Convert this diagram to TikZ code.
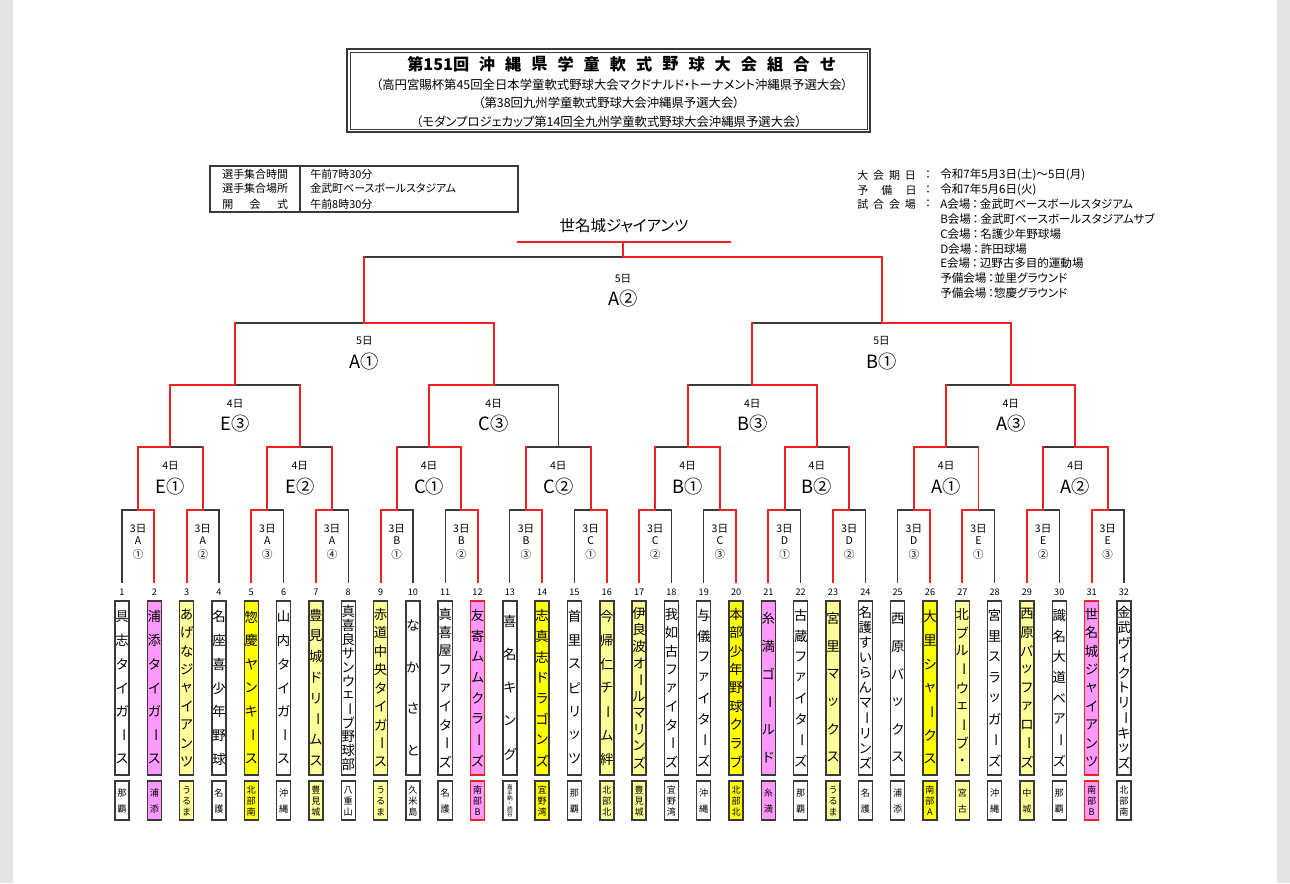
\documentclass[tikz,border=0pt]{standalone}
\usepackage{fontspec}
\setmainfont{Noto Sans CJK JP}[RawFeature=+palt]
\usepackage{tikz}

\definecolor{pinkbox}{HTML}{FF99FF}
\definecolor{paleyel}{HTML}{FFFF99}
\definecolor{yelbox}{HTML}{FFFF00}
\definecolor{winred}{HTML}{EE2222}
\definecolor{linegray}{HTML}{3A3A3A}
\definecolor{pagegray}{HTML}{E4E4E4}

\newcommand\cho{\rotatebox[origin=c]{-90}{ー}}
\newcommand\vtext[5]{%
  \foreach \c [count=\cnt] in #5 {\xdef\nchars{\cnt}}
  \foreach \c [count=\cnt] in #5 {
    \node[#4] at (#1, {#2+(\cnt-0.5)*(#3-#2)/\nchars}) {\c};
  }
}

\begin{document}
\begin{tikzpicture}[x=0.025cm, y=-0.025cm, line cap=rect,
    redline/.style={draw=winred, line width=1.4pt},
    blkline/.style={draw=linegray, line width=0.9pt},
    tchar/.style={inner sep=0pt, font=\fontsize{9.5}{10}\selectfont},
    hchar/.style={inner sep=0pt, font=\fontsize{6.5}{7}\selectfont},
    hcharsm/.style={inner sep=0pt, font=\fontsize{4}{4}\selectfont},
    numf/.style={inner sep=0pt, font=\fontsize{6.5}{7}\selectfont},
    dayf/.style={inner sep=0pt, font=\fontsize{7.5}{8}\selectfont},
    bigf/.style={inner sep=0pt, font=\fontsize{13}{14}\selectfont},
    infof/.style={inner sep=0pt, font=\fontsize{7.8}{8}\selectfont},
    schf/.style={inner sep=0pt, font=\fontsize{8.2}{9}\selectfont},
    subf/.style={inner sep=0pt, font=\fontsize{8.8}{9}\selectfont},
    namebox/.style={minimum width=0.35cm, minimum height=4.35cm, line width=1pt, inner sep=0pt},
    homebox/.style={minimum width=0.35cm, minimum height=0.975cm, line width=1pt, inner sep=0pt}]

    \useasboundingbox (0,0) rectangle (1290,883);
    \fill[pagegray] (0,0) rectangle (1290,883);
    \fill[white] (13,0) rectangle (1277,883);

    % title
    \draw[line width=1.1pt, linegray] (347,49) rectangle (870,132);
    \draw[line width=0.5pt, linegray] (350,52) rectangle (867,129);
    \node[anchor=west, inner sep=0pt, font=\fontsize{11.5}{12}\bfseries] (ttl) at (407,64) {第151回};
    \foreach \c [count=\i] in {沖,縄,県,学,童,軟,式,野,球,大,会,組,合,せ} {
        \node[inner sep=0pt, font=\fontsize{11.5}{12}\bfseries] (ttl\i) at ({487+(\i-1)*26.2},64) {\c};
    }
    \node[subf] (sub1) at (612,85) {（高円宮賜杯第45回全日本学童軟式野球大会マクドナルド・トーナメント沖縄県予選大会）};
    \node[subf] (sub2) at (609,103) {（第38回九州学童軟式野球大会沖縄県予選大会）};
    \node[subf] (sub3) at (609,122) {（モダンプロジェカップ第14回全九州学童軟式野球大会沖縄県予選大会）};

    % meeting box
    \draw[line width=0.9pt, linegray] (210,166) rectangle (518,212);
    \draw[line width=0.9pt, linegray] (300,166) -- (300,212);
    \node[infof, anchor=west] (lab1) at (222,174) {選手集合時間};
    \node[infof, anchor=west] (lab2) at (222,188) {選手集合場所};
    \node[infof, anchor=west] (lab3) at (222,204) {開\hspace{1.5em}会\hspace{1.5em}式};
    \node[infof, anchor=west] (val1) at (310,174) {午前7時30分};
    \node[infof, anchor=west] (val2) at (310,188) {金武町ベースボールスタジアム};
    \node[infof, anchor=west] (val3) at (310,204) {午前8時30分};

    % schedule
    \node[infof, anchor=west] (sch1) at (857,175) {大\hspace{0.45em}会\hspace{0.45em}期\hspace{0.45em}日};
    \node[infof, anchor=west] (sch2) at (857,190) {予\hspace{1.2em}備\hspace{1.2em}日};
    \node[infof, anchor=west] (sch3) at (857,204) {試\hspace{0.45em}合\hspace{0.45em}会\hspace{0.45em}場};
    \foreach \y in {175,190,204} {
        \node[infof] at (928,\y) {：};
    }
    \node[schf, anchor=west] (per1) at (940,175) {令和7年5月3日(土)～5日(月)};
    \node[schf, anchor=west] (per2) at (940,190) {令和7年5月6日(火)};
    \foreach \t [count=\i] in {A会場\,：\,金武町ベースボールスタジアム,
                               B会場\,：\,金武町ベースボールスタジアムサブ,
                               C会場\,：\,名護少年野球場,
                               D会場\,：\,許田球場,
                               E会場\,：\,辺野古多目的運動場,
                               予備会場\,：並里グラウンド,
                               予備会場\,：惣慶グラウンド} {
        \node[schf, anchor=west] (fld\i) at (940,{204+(\i-1)*14.9}) {\t};
    }

    % bracket
    \foreach \r in {1,...,5} {
        \pgfmathtruncatemacro\m{32/2^\r}
        \pgfmathsetmacro\ylo{{582,510,447,385,323,257}[\r-1]}
        \pgfmathsetmacro\yhi{{582,510,447,385,323,257}[\r]}
        \foreach \j in {1,...,\m} {
            \pgfmathsetmacro\xl{122+32.32*((2*\j-2)*2^(\r-1)+(2^(\r-1)-1)/2)}
            \pgfmathsetmacro\xr{122+32.32*((2*\j-1)*2^(\r-1)+(2^(\r-1)-1)/2)}
            \draw[blkline] (\xl,\ylo) -- (\xl,\yhi) -- (\xr,\yhi) -- (\xr,\ylo);
        }
    }
    \foreach \t/\w in {2/3,3/1,5/2,7/1,9/1,12/4,14/1,16/1,17/1,20/2,21/3,23/1,26/2,27/1,29/1,31/5} {
        \foreach \r in {1,...,\w} {
            \pgfmathsetmacro\xa{122+32.32*(floor((\t-1)/2^(\r-1))*2^(\r-1)+(2^(\r-1)-1)/2)}
            \pgfmathsetmacro\xb{122+32.32*(floor((\t-1)/2^\r)*2^\r+(2^\r-1)/2)}
            \pgfmathsetmacro\ya{{582,510,447,385,323,257,242}[\r-1]}
            \pgfmathsetmacro\yb{{582,510,447,385,323,257,242}[\r]}
            \pgfmathsetmacro\yc{{582,510,447,385,323,257,242}[\r+1]}
            \draw[redline] (\xa,\ya) |- (\xb,\yb) -- (\xb,\yc);
        }
    }
    \coordinate (champL) at (518,242);
    \coordinate (champR) at (730,242);
    \draw[redline] (champL) -- (champR);
    \node[inner sep=0pt, font=\fontsize{11}{12}\selectfont] (champ) at (624,226) {世名城ジャイアンツ};

    % match labels
    \foreach \lt/\nm [count=\j] in {A/①,A/②,A/③,A/④,B/①,B/②,B/③,C/①,C/②,C/③,D/①,D/②,D/③,E/①,E/②,E/③} {
        \pgfmathsetmacro\xc{122+32.32*(2*\j-1.5)}
        \node[dayf] (d1-\j) at (\xc,529) {3日};
        \node[dayf] (v1-\j) at (\xc,541) {\lt};
        \node[dayf] (c1-\j) at (\xc,554) {\nm};
    }
    \foreach \lab [count=\j] in {E①,E②,C①,C②,B①,B②,A①,A②} {
        \pgfmathsetmacro\xc{122+32.32*((\j-1)*4+1.5)}
        \node[dayf] (d2-\j) at (\xc,466) {4日};
        \node[bigf] (m2-\j) at (\xc,487) {\lab};
    }
    \foreach \lab [count=\j] in {E③,C③,B③,A③} {
        \pgfmathsetmacro\xc{122+32.32*((\j-1)*8+3.5)}
        \node[dayf] (d3-\j) at (\xc,404) {4日};
        \node[bigf] (m3-\j) at (\xc,424) {\lab};
    }
    \foreach \lab [count=\j] in {A①,B①} {
        \pgfmathsetmacro\xc{122+32.32*((\j-1)*16+7.5)}
        \node[dayf] (d4-\j) at (\xc,341) {5日};
        \node[bigf] (m4-\j) at (\xc,362) {\lab};
    }
    \node[dayf] (d5) at (623,279) {5日};
    \node[bigf] (m5) at (623,299) {A②};

    % teams
    \foreach \i/\nm/\hm/\fc/\ec/\hs in {
        1/{具,志,タ,イ,ガ,\cho,ス}/{那,覇}/white/linegray/hchar,
        2/{浦,添,タ,イ,ガ,\cho,ス}/{浦,添}/pinkbox/linegray/hchar,
        3/{あ,げ,な,ジ,ャ,イ,ア,ン,ツ}/{う,る,ま}/paleyel/linegray/hchar,
        4/{名,座,喜,少,年,野,球}/{名,護}/white/linegray/hchar,
        5/{惣,慶,ヤ,ン,キ,\cho,ス}/{北,部,南}/yelbox/linegray/hchar,
        6/{山,内,タ,イ,ガ,\cho,ス}/{沖,縄}/white/linegray/hchar,
        7/{豊,見,城,ド,リ,\cho,ム,ス}/{豊,見,城}/paleyel/linegray/hchar,
        8/{真,喜,良,サ,ン,ウ,ェ,\cho,ブ,野,球,部}/{八,重,山}/white/linegray/hchar,
        9/{赤,道,中,央,タ,イ,ガ,\cho,ス}/{う,る,ま}/paleyel/linegray/hchar,
        10/{な,か,さ,と}/{久,米,島}/white/linegray/hchar,
        11/{真,喜,屋,フ,ァ,イ,タ,\cho,ズ}/{名,護}/white/linegray/hchar,
        12/{友,寄,ム,ム,ク,ラ,\cho,ズ}/{南,部,B}/pinkbox/winred/hchar,
        13/{喜,名,キ,ン,グ}/{嘉,手,納,・,読,谷}/white/linegray/hcharsm,
        14/{志,真,志,ド,ラ,ゴ,ン,ズ}/{宜,野,湾}/yelbox/linegray/hchar,
        15/{首,里,ス,ピ,リ,ッ,ツ}/{那,覇}/white/linegray/hchar,
        16/{今,帰,仁,チ,\cho,ム,絆}/{北,部,北}/paleyel/linegray/hchar,
        17/{伊,良,波,オ,\cho,ル,マ,リ,ン,ズ}/{豊,見,城}/paleyel/linegray/hchar,
        18/{我,如,古,フ,ァ,イ,タ,\cho,ズ}/{宜,野,湾}/white/linegray/hchar,
        19/{与,儀,フ,ァ,イ,タ,\cho,ズ}/{沖,縄}/white/linegray/hchar,
        20/{本,部,少,年,野,球,ク,ラ,ブ}/{北,部,北}/yelbox/linegray/hchar,
        21/{糸,満,ゴ,\cho,ル,ド}/{糸,満}/pinkbox/linegray/hchar,
        22/{古,蔵,フ,ァ,イ,タ,\cho,ズ}/{那,覇}/white/linegray/hchar,
        23/{宮,里,マ,ッ,ク,ス}/{う,る,ま}/paleyel/linegray/hchar,
        24/{名,護,す,い,ら,ん,マ,\cho,リ,ン,ズ}/{名,護}/white/linegray/hchar,
        25/{西,原,バ,ッ,ク,ス}/{浦,添}/white/linegray/hchar,
        26/{大,里,シ,ャ,\cho,ク,ス}/{南,部,A}/yelbox/linegray/hchar,
        27/{北,ブ,ル,\cho,ウ,ェ,\cho,ブ,・}/{宮,古}/paleyel/linegray/hchar,
        28/{宮,里,ス,ラ,ッ,ガ,\cho,ズ}/{沖,縄}/white/linegray/hchar,
        29/{西,原,バ,ッ,フ,ァ,ロ,\cho,ズ}/{中,城}/paleyel/linegray/hchar,
        30/{識,名,大,道,ベ,ア,\cho,ズ}/{那,覇}/white/linegray/hchar,
        31/{世,名,城,ジ,ャ,イ,ア,ン,ツ}/{南,部,B}/pinkbox/winred/hchar,
        32/{金,武,ヴ,ィ,ク,ト,リ,\cho,キ,ッ,ズ}/{北,部,南}/white/linegray/hchar} {
        \pgfmathsetmacro\xt{122+32.32*(\i-1)}
        \node[numf] (n\i) at (\xt,592) {\i};
        \node[namebox, fill=\fc, draw=\ec] (team\i) at (\xt,688) {};
        \node[homebox, fill=\fc, draw=\ec] (home\i) at (\xt,800.5) {};
        \vtext{\xt}{605}{771}{tchar}{\nm}
        \vtext{\xt}{785}{817}{\hs}{\hm}
    }
\end{tikzpicture}
\end{document}
